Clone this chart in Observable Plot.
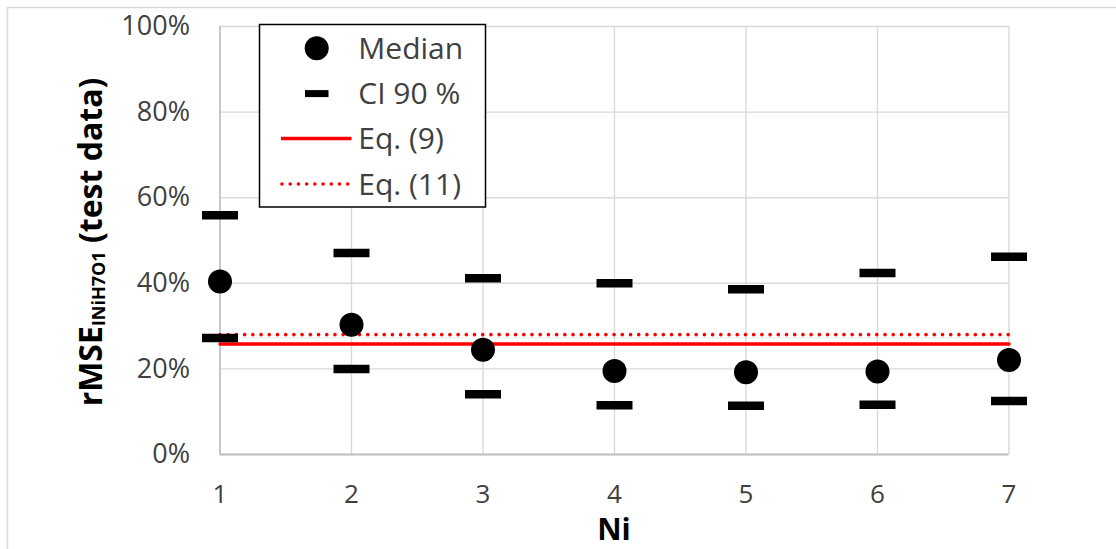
<!DOCTYPE html>
<html>
<head>
<meta charset="utf-8">
<script src="https://cdn.jsdelivr.net/npm/d3@7"></script>
<script src="https://cdn.jsdelivr.net/npm/@observablehq/plot@0.6"></script>
<style>
  html, body { margin: 0; padding: 0; background: #fff; }
  #chart { width: 1116px; height: 549px; overflow: hidden; }
  #chart svg { display: block; }
</style>
</head>
<body>
<div id="chart"></div>
<script>
// Number of components Ni
const ni = [1, 2, 3, 4, 5, 6, 7];
// Median rMSE on the test data for each Ni
const median = [0.404, 0.303, 0.245, 0.195, 0.192, 0.194, 0.221];
// 90 % confidence interval bounds
const ciUpper = [0.559, 0.471, 0.412, 0.400, 0.386, 0.424, 0.462];
const ciLower = [0.272, 0.200, 0.141, 0.115, 0.114, 0.116, 0.125];
// Reference levels from the two equations
const eq9 = 0.258;
const eq11 = 0.280;
// Axis ticks
const yTicks = [0, 0.2, 0.4, 0.6, 0.8, 1.0];
const xTicks = ni;
// Legend entries
const legendLabels = ["Median", "CI 90 %", "Eq. (9)", "Eq. (11)"];

const FONT = "'Open Sans', 'Noto Sans', sans-serif";
const TEXT_GRAY = "#404040";
const GRID = "#d9d9d9";
const RED = "#ff0000";

const medianData = ni.map((n, i) => ({ ni: n, v: median[i] }));
const ciData = ni.flatMap((n, i) => [
  { ni: n, v: ciUpper[i] },
  { ni: n, v: ciLower[i] }
]);
const eq9Data = ni.map(n => ({ ni: n, v: eq9 }));
const eq11Data = ni.map(n => ({ ni: n, v: eq11 }));

// Flat bar used for the confidence interval bounds
const dash = {
  draw(context) {
    context.rect(-18, -4.25, 36, 8.5);
  }
};

const W = 1116, H = 549;
const chart = Plot.plot({
  width: W,
  height: H,
  marginLeft: 219.5,
  marginRight: 107.5,
  marginTop: 26,
  marginBottom: 95,
  style: { fontFamily: FONT, background: "#fff", overflow: "visible" },
  x: { domain: [1, 7] },
  y: { domain: [0, 1] },
  marks: [
    Plot.gridX(xTicks, { stroke: GRID, strokeOpacity: 1, strokeWidth: 1.4 }),
    Plot.gridY(yTicks, { stroke: GRID, strokeOpacity: 1, strokeWidth: 1.4 }),
    Plot.ruleY([0], { stroke: "#bfbfbf", strokeWidth: 1.8 }),
    Plot.ruleX([1], { stroke: "#bfbfbf", strokeWidth: 1.6 }),
    Plot.axisY({
      ticks: yTicks,
      tickFormat: d3.format(".0%"),
      tickSize: 0,
      tickPadding: 30,
      fontSize: 27,
      color: TEXT_GRAY,
      label: null
    }),
    Plot.axisX({
      ticks: xTicks,
      tickFormat: d3.format("d"),
      tickSize: 0,
      tickPadding: 30,
      fontSize: 26,
      color: TEXT_GRAY,
      label: null
    }),
    Plot.line(eq9Data, { x: "ni", y: "v", stroke: RED, strokeWidth: 3.5 }),
    Plot.line(eq11Data, {
      x: "ni", y: "v", stroke: RED, strokeWidth: 3.6,
      strokeDasharray: "0.01 8.2", strokeLinecap: "round"
    }),
    Plot.dot(ciData, { x: "ni", y: "v", symbol: dash, fill: "#000" }),
    Plot.dot(medianData, { x: "ni", y: "v", r: 12, fill: "#000" })
  ]
});

document.getElementById("chart").appendChild(chart);

const svg = d3.select(chart);

// Outer chart-area border
svg.append("rect")
  .attr("x", 7.5).attr("y", 7.5)
  .attr("width", 1300).attr("height", 700)
  .attr("fill", "none").attr("stroke", GRID).attr("stroke-width", 1.5);

// x-axis title
svg.append("text")
  .attr("x", 614).attr("y", 540)
  .attr("text-anchor", "middle")
  .attr("font-family", FONT).attr("font-weight", "bold")
  .attr("font-size", 30).attr("fill", "#000")
  .text("Ni");

// y-axis title with subscript
const yt = svg.append("text")
  .attr("transform", "translate(102,242) rotate(-90)")
  .attr("text-anchor", "middle")
  .attr("font-family", FONT).attr("font-weight", "bold")
  .attr("font-size", 32).attr("fill", "#000");
yt.append("tspan").text("rMSE");
yt.append("tspan").attr("font-size", 18).attr("dy", 3).text("INiH7O1");
yt.append("tspan").attr("dy", -3).text(" (test data)");

// Legend
const lg = svg.append("g");
lg.append("rect")
  .attr("x", 259.5).attr("y", 24.5)
  .attr("width", 226).attr("height", 182.5)
  .attr("fill", "#fff").attr("stroke", "#000").attr("stroke-width", 1.5);

const rowY = [48.3, 93.6, 138.5, 184];
lg.append("circle").attr("cx", 316.7).attr("cy", rowY[0]).attr("r", 12).attr("fill", "#000");
lg.append("rect").attr("x", 305).attr("y", rowY[1] - 3.5).attr("width", 23.5).attr("height", 7).attr("fill", "#000");
lg.append("line")
  .attr("x1", 281).attr("x2", 351.5).attr("y1", rowY[2]).attr("y2", rowY[2])
  .attr("stroke", RED).attr("stroke-width", 3.5);
lg.append("line")
  .attr("x1", 282).attr("x2", 351.5).attr("y1", rowY[3]).attr("y2", rowY[3])
  .attr("stroke", RED).attr("stroke-width", 3.6)
  .attr("stroke-dasharray", "0.01 8.2").attr("stroke-linecap", "round");
lg.selectAll("text.lab").data(legendLabels).join("text")
  .attr("class", "lab")
  .attr("x", 358.3).attr("y", (d, i) => rowY[i])
  .attr("dy", "0.36em")
  .attr("text-anchor", "start")
  .attr("font-family", FONT).attr("font-size", 30)
  .attr("fill", TEXT_GRAY)
  .text(d => d);
</script>
</body>
</html>
